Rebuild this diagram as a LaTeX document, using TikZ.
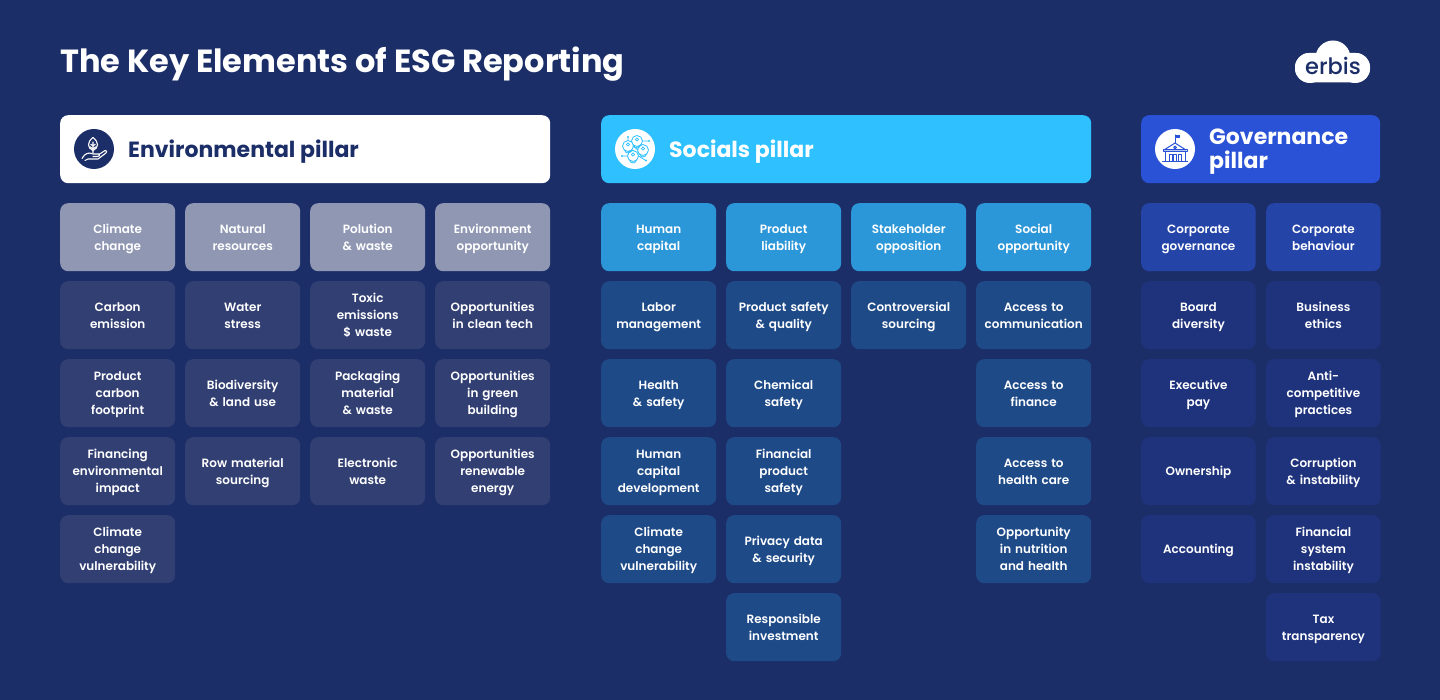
\documentclass[tikz,border=0pt]{standalone}
\usepackage{fontspec}
\setmainfont{Poppins}
\newfontfamily\semifont{Poppins SemiBold}
\newfontfamily\medfont{Poppins Medium}
\definecolor{bgc}{HTML}{1C2E68}
\definecolor{envhead}{HTML}{8F97B3}
\definecolor{envcell}{HTML}{323F72}
\definecolor{sochdr}{HTML}{2FC1FF}
\definecolor{sochead}{HTML}{2C97D8}
\definecolor{soccell}{HTML}{1E4A88}
\definecolor{govhdr}{HTML}{2A52D6}
\definecolor{govhead}{HTML}{2444A8}
\definecolor{govcell}{HTML}{1F337C}
\newcommand{\cardstrut}{\vrule height 13pt depth 4pt width 0pt\relax}
\tikzset{
 x=1pt,y=-1pt,
 card/.style={rectangle,rounded corners=8pt,minimum width=115pt,minimum height=68pt,inner sep=0pt,text=white,align=center,font=\semifont\fontsize{12}{17}\selectfont,anchor=north west,text width=115pt,execute at begin node=\cardstrut,execute at end node=\cardstrut},
 ehead/.style={card,fill=envhead},
 ecell/.style={card,fill=envcell},
 shead/.style={card,fill=sochead},
 scell/.style={card,fill=soccell},
 ghead/.style={card,fill=govhead,minimum width=114.5pt,text width=114.5pt},
 gcell/.style={card,fill=govcell,minimum width=114.5pt,text width=114.5pt},
 banner/.style={rectangle,rounded corners=8pt,minimum height=68pt,inner sep=0pt,anchor=north west},
 bantext/.style={anchor=west,inner sep=0pt,align=left,font=\bfseries\fontsize{22}{24}\selectfont,execute at begin node={\vrule height 16pt depth 8pt width 0pt\relax},execute at end node={\vrule height 16pt depth 8pt width 0pt\relax}},
 icondisc/.style={circle,minimum size=40pt,inner sep=0pt},
 ln/.style={line width=1.1pt,line cap=round,line join=round},
}
\begin{document}
\begin{tikzpicture}
\fill[bgc] (0,0) rectangle (1440,700);
\useasboundingbox (0,0) rectangle (1440,700);
\node[anchor=base west,inner sep=0pt,text=white,font=\bfseries\fontsize{32}{32}\selectfont] (title) at (60,73) {The Key Elements of ESG Reporting};

% logo
\fill[white,rounded corners=14pt] (1295,82.5) rectangle (1370,53);
\fill[white] (1333,58) circle (17.5);
\fill[white] (1310,68) circle (15);
\fill[white] (1355,68) circle (15);
\node[inner sep=0pt,text=bgc,font=\medfont\fontsize{22.5}{24}\selectfont] (logo) at (1333,65.5) {erbis};

% banners
\node[banner,fill=white,minimum width=490pt] (envb) at (60,115) {};
\node[banner,fill=sochdr,minimum width=490pt] (socb) at (601,115) {};
\node[banner,fill=govhdr,minimum width=239pt] (govb) at (1141,115) {};
\node[icondisc,fill=bgc] (envi) at (94,149) {};
\node[icondisc,fill=white] (soci) at (635,149) {};
\node[icondisc,fill=white] (govi) at (1175,149) {};
\node[bantext,text=bgc] (envt) at (128,153) {Environmental pillar};
\node[bantext,text=white] (soct) at (669,153) {Socials pillar};
\node[bantext,text=white] (govt) at (1209,153) {Governance\\pillar};

% env icon
\begin{scope}[ln,white]
\draw (93,137.5) .. controls (87,142) and (87,148) .. (93,150.5) .. controls (99,148) and (99,142) .. (93,137.5) -- cycle;
\draw (93,142) -- (93,153) (93,146) -- (90.8,144.3) (93,146) -- (95.2,144.3) (93,149) -- (90,146.8) (93,149) -- (96,146.8);
\draw (82,158.5) .. controls (85,153) and (89,152) .. (93,154) -- (99,154) .. controls (101,155) and (99,157) .. (97,156.5) -- (93,156.5);
\draw (99,154.5) -- (105,150.5) .. controls (107,150) and (107,152) .. (106,153) -- (98,159) -- (88,159) -- (85,160.5);
\end{scope}

% social icon
\begin{scope}[line width=0.8pt,sochdr]
\draw (628,146) circle (5.5) (637,141) circle (5.5) (643,150) circle (5.5) (633,156) circle (5.5);
\draw (628,144.5) circle (1.6) (637,139.5) circle (1.6) (643,148.5) circle (1.6) (633,154.5) circle (1.6);
\draw (624.5,149.5) arc (180:0:3.5) (633.5,144.5) arc (180:0:3.5) (639.5,153.5) arc (180:0:3.5) (629.5,159.5) arc (180:0:3.5);
\draw (628,140.5) -- (628,138) (623,156) -- (627.5,156) (638.5,156) -- (645,160) (642.5,141) -- (648,141) (633,146) -- (638,150);
\fill[sochdr] (628,137) circle (1.2) (622,156) circle (1.2) (646,160.5) circle (1.2) (649,141) circle (1.2);
\end{scope}

% gov icon
\begin{scope}[line width=1pt,govhdr,line join=round,line cap=round]
\draw (1175,143) -- (1175,135);
\fill (1175,135) -- (1180,135) -- (1180,138.5) -- (1175,138.5) -- cycle;
\draw (1164,150) -- (1175,143) -- (1186,150) -- cycle;
\draw (1163,150) rectangle (1187,152);
\draw (1165,152) -- (1165,161) (1185,152) -- (1185,161) (1162.5,161.5) -- (1187.5,161.5);
\draw (1169,161) -- (1169,154.5) -- (1172,154.5) -- (1172,161) (1173.5,161) -- (1173.5,154.5) -- (1176.5,154.5) -- (1176.5,161) (1178,161) -- (1178,154.5) -- (1181,154.5) -- (1181,161);
\draw (1175,147.5) circle (1.4);
\end{scope}

% Environmental
\node[ehead] (e11) at (60,203) {Climate\\change};
\node[ehead] (e21) at (185,203) {Natural\\resources};
\node[ehead] (e31) at (310,203) {Polution\\\& waste};
\node[ehead] (e41) at (435,203) {Environment\\opportunity};
\node[ecell] (e12) at (60,281) {Carbon\\emission};
\node[ecell] (e22) at (185,281) {Water\\stress};
\node[ecell] (e32) at (310,281) {Toxic\\emissions\\\$ waste};
\node[ecell] (e42) at (435,281) {Opportunities\\in clean tech};
\node[ecell] (e13) at (60,359) {Product\\carbon\\footprint};
\node[ecell] (e23) at (185,359) {Biodiversity\\\& land use};
\node[ecell] (e33) at (310,359) {Packaging\\material\\\& waste};
\node[ecell] (e43) at (435,359) {Opportunities\\in green\\building};
\node[ecell] (e14) at (60,437) {Financing\\environmental\\impact};
\node[ecell] (e24) at (185,437) {Row material\\sourcing};
\node[ecell] (e34) at (310,437) {Electronic\\waste};
\node[ecell] (e44) at (435,437) {Opportunities\\renewable\\energy};
\node[ecell] (e15) at (60,515) {Climate\\change\\vulnerability};

% Social
\node[shead] (s11) at (601,203) {Human\\capital};
\node[shead] (s21) at (726,203) {Product\\liability};
\node[shead] (s31) at (851,203) {Stakeholder\\opposition};
\node[shead] (s41) at (976,203) {Social\\opportunity};
\node[scell] (s12) at (601,281) {Labor\\management};
\node[scell] (s22) at (726,281) {Product safety\\\& quality};
\node[scell] (s32) at (851,281) {Controversial\\sourcing};
\node[scell] (s42) at (976,281) {Access to\\communication};
\node[scell] (s13) at (601,359) {Health\\\& safety};
\node[scell] (s23) at (726,359) {Chemical\\safety};
\node[scell] (s43) at (976,359) {Access to\\finance};
\node[scell] (s14) at (601,437) {Human\\capital\\development};
\node[scell] (s24) at (726,437) {Financial\\product\\safety};
\node[scell] (s44) at (976,437) {Access to\\health care};
\node[scell] (s15) at (601,515) {Climate\\change\\vulnerability};
\node[scell] (s25) at (726,515) {Privacy data\\\& security};
\node[scell] (s45) at (976,515) {Opportunity\\in nutrition\\and health};
\node[scell] (s26) at (726,593) {Responsible\\investment};

% Governance
\node[ghead] (g11) at (1141,203) {Corporate\\governance};
\node[ghead] (g21) at (1266,203) {Corporate\\behaviour};
\node[gcell] (g12) at (1141,281) {Board\\diversity};
\node[gcell] (g22) at (1266,281) {Business\\ethics};
\node[gcell] (g13) at (1141,359) {Executive\\pay};
\node[gcell] (g23) at (1266,359) {Anti-\\competitive\\practices};
\node[gcell] (g14) at (1141,437) {Ownership};
\node[gcell] (g24) at (1266,437) {Corruption\\\& instability};
\node[gcell] (g15) at (1141,515) {Accounting};
\node[gcell] (g25) at (1266,515) {Financial\\system\\instability};
\node[gcell] (g26) at (1266,593) {Tax\\transparency};
\end{tikzpicture}
\end{document}
